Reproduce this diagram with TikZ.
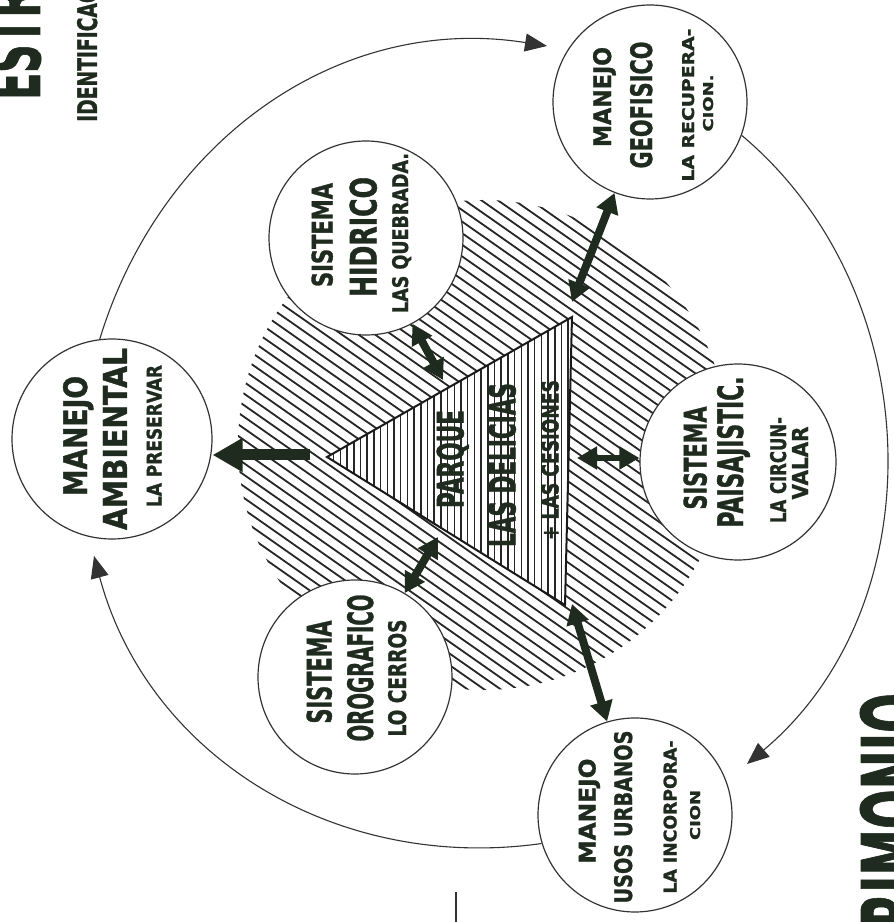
\documentclass[tikz,border=0pt]{standalone}
\usepackage{fontspec}
\setmainfont{DejaVu Sans}[BoldFeatures={FakeBold=1.3}]
\usepackage{graphicx}
\usetikzlibrary{arrows.meta,calc}
\definecolor{ink}{HTML}{1E2B1E}
\newcommand\fitt[3]{\raisebox{0pt}[#2pt][0pt]{\resizebox{#1pt}{#2pt}{\bfseries #3}}}
\begin{document}
\begin{tikzpicture}[x=1pt,y=1pt,
 circ/.style={circle, draw=black!80, line width=1.2pt, fill=white, inner sep=0pt},
 lbl/.style={inner sep=0pt, rotate=90, text=ink},
 bigarr/.style={draw=ink, line width=11pt, -{Triangle[length=30pt,width=32pt]}},
 dblarr/.style={draw=ink, line width=8pt, {Triangle[length=20pt,width=22pt]}-{Triangle[length=20pt,width=22pt]}},
 ring/.style={draw=black!80, line width=1.1pt, -{Triangle[length=22pt,width=18pt]}},
 hatch/.style={line width=1.8pt, draw=black!85},
 vhatch/.style={line width=1.5pt, draw=black!85}
]
\useasboundingbox (0,0) rectangle (894,922);
\fill[white] (0,0) rectangle (894,922);

% hatched disk
\coordinate (dc) at (483,477);
\begin{scope}
\clip (dc) circle (245);
\begin{scope}[shift={(dc)}, rotate=-35]
\foreach \k in {-30,...,30} \draw[hatch] (-300,\k*9.5) -- (300,\k*9.5);
\end{scope}
\end{scope}

% triangle
\coordinate (tL) at (327,465);
\coordinate (tT) at (572,605);
\coordinate (tB) at (565,317);
\fill[white] (tL) -- (tT) -- (tB) -- cycle;
\begin{scope}
\clip (tL) -- (tT) -- (tB) -- cycle;
\foreach \k in {0,...,40} \draw[vhatch] (327+\k*6.7,300) -- ++(0,320);
\end{scope}
\draw[line width=2pt, line join=miter, black!90] (tL) -- (tT) -- (tB) -- cycle;
\node[lbl] (tx1) at (450,463) {\fitt{98}{27}{PARQUE}};
\node[lbl] (tx2) at (502,457) {\fitt{164}{27}{LAS DELICIAS}};
\node[lbl] (tx3) at (550,462) {\fitt{160}{17}{+ LAS CESIONES}};

% circles
\node[circ, minimum size=194pt] (geo) at (650,820) {};
\node[circ, minimum size=200pt] (amb) at (112,483) {};
\node[circ, minimum size=194pt] (uso) at (635,107) {};
\node[circ, minimum size=194pt] (hid) at (366,684) {};
\node[circ, minimum size=196pt] (pai) at (738,460) {};
\node[circ, minimum size=194pt] (oro) at (355,245) {};

% labels
\node[lbl] (geo1) at (602,825) {\fitt{100}{18}{MANEJO}};
\node[lbl] (geo2) at (641,817) {\fitt{127}{22}{GEOFISICO}};
\node[lbl] (geo3) at (688,817) {\fitt{153}{12}{LA RECUPERA-}};
\node[lbl] (geo4) at (708,819) {\fitt{57}{10}{CION.}};

\node[lbl] (amb1) at (75,486) {\fitt{120}{24}{MANEJO}};
\node[lbl] (amb2) at (115,483) {\fitt{182}{24}{AMBIENTAL}};
\node[lbl] (amb3) at (154,486) {\fitt{142}{15}{LA PRESERVAR}};

\node[lbl] (uso1) at (587,111) {\fitt{105}{17}{MANEJO}};
\node[lbl] (uso2) at (623,105) {\fitt{173}{18}{USOS URBANOS}};
\node[lbl] (uso3) at (670,105) {\fitt{153}{13}{LA INCORPORA-}};
\node[lbl] (uso4) at (695,107) {\fitt{50}{10}{CION}};

\node[lbl] (hid1) at (322,687) {\fitt{104}{21}{SISTEMA}};
\node[lbl] (hid2) at (363,685) {\fitt{120}{27}{HIDRICO}};
\node[lbl] (hid3) at (400,689) {\fitt{160}{16}{LAS QUEBRADA.}};

\node[lbl] (pai1) at (695,464) {\fitt{103}{23}{SISTEMA}};
\node[lbl] (pai2) at (730,470) {\fitt{151}{26}{PAISAJISTIC.}};
\node[lbl] (pai3) at (778,452) {\fitt{106}{16}{LA CIRCUN-}};
\node[lbl] (pai4) at (800,459) {\fitt{73}{16}{VALAR}};

\node[lbl] (oro1) at (319,250) {\fitt{103}{25}{SISTEMA}};
\node[lbl] (oro2) at (360,254) {\fitt{147}{26}{OROGRAFICO}};
\node[lbl] (oro3) at (397,244) {\fitt{117}{18}{LO CERROS}};

% thick arrows
\coordinate (aL) at (310,467);
\draw[bigarr] (aL) -- (aL -| amb.east);
\coordinate (a1) at (443,542);
\draw[dblarr] (a1) -- (hid);
\coordinate (a2) at (438,385);
\draw[dblarr] (a2) -- (oro);
\coordinate (a3) at (577,464);
\draw[dblarr, line width=6pt] (a3) -- (a3 -| pai.west);
\coordinate (a4) at (572,620);
\draw[dblarr] (a4) -- (geo);
\coordinate (a5) at (572,318);
\draw[dblarr] (a5) -- (uso);

% outer ring arcs
\coordinate (tipG) at (547,876);
\coordinate (tipU) at (747,158);
\coordinate (tipA) at (94,366);
\draw[ring] (amb.97) to[out=73,in=171] (tipG);
\draw[ring] (geo.-20) to[out=-40,in=40] (tipU);
\draw[ring] (uso.197) to[out=188,in=-75] (tipA);

% cropped page fragments
\node[lbl, anchor=base west] (frag1) at (40,822) {\resizebox{300pt}{55pt}{\bfseries ESTRATEGIAS}};
\node[lbl, anchor=base west] (frag2) at (97,800) {\resizebox{171pt}{20pt}{\bfseries IDENTIFICACION}};
\node[lbl, anchor=base east] (frag3) at (925,229) {\resizebox{330pt}{65pt}{\bfseries PATRIMONIO}};
\coordinate (v1) at (456,0);
\coordinate (v2) at (456,30);
\draw[line width=1.5pt, black!80] (v1) -- (v2);
\end{tikzpicture}
\end{document}
